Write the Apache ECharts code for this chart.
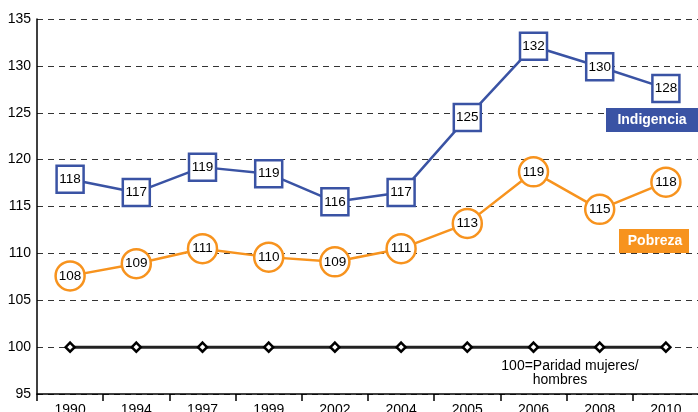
<!DOCTYPE html>
<html>
<head>
<meta charset="utf-8">
<script src="https://cdn.jsdelivr.net/npm/echarts@6/dist/echarts.min.js"></script>
<style>
html,body{margin:0;padding:0;background:#fff;}
#chart{width:698px;height:412px;}
</style>
</head>
<body>
<div id="chart"></div>
<script>
const years = ['1990','1994','1997','1999','2002','2004','2005','2006','2008','2010'];
const indigencia = [117.9, 116.5, 119.2, 118.5, 115.5, 116.5, 124.5, 132.1, 129.9, 127.6];
const pobreza = [107.6, 108.9, 110.5, 109.6, 109.1, 110.5, 113.2, 118.7, 114.7, 117.6];
const paridad = [100, 100, 100, 100, 100, 100, 100, 100, 100, 100];
const yTicks = [95, 100, 105, 110, 115, 120, 125, 130, 135];

const BLUE = '#3a53a4';
const ORANGE = '#f7931e';
const FONT = 'Liberation Sans, Arial, sans-serif';

const chart = echarts.init(document.getElementById('chart'), null, {renderer: 'canvas'});
chart.setOption({
  animation: false,
  backgroundColor: '#fff',
  textStyle: {fontFamily: FONT},
  grid: {left: 37, right: -1, top: 19, bottom: 18, containLabel: false, outerBoundsMode: 'none'},
  xAxis: {
    type: 'category',
    data: years,
    boundaryGap: true,
    axisLine: {show: true, lineStyle: {color: '#000', width: 1.5}},
    axisTick: {show: true, length: 7, lineStyle: {color: '#000', width: 1.5}},
    axisLabel: {color: '#000', fontSize: 14, fontFamily: FONT, margin: 9},
    splitLine: {show: false}
  },
  yAxis: {
    type: 'value',
    min: yTicks[0],
    max: yTicks[yTicks.length - 1],
    interval: 5,
    axisLine: {show: true, lineStyle: {color: '#000', width: 1.5}},
    axisTick: {show: false},
    axisLabel: {color: '#000', fontSize: 14, fontFamily: FONT, margin: 6},
    splitLine: {show: true, lineStyle: {color: '#333', width: 1, type: [6, 5]}}
  },
  series: [
    {
      name: 'Paridad',
      type: 'line',
      data: paridad,
      symbol: 'diamond',
      symbolSize: 9,
      lineStyle: {color: '#222', width: 3},
      itemStyle: {color: '#fff', borderColor: '#000', borderWidth: 2.5},
      z: 2
    },
    {
      name: 'Pobreza',
      type: 'line',
      data: pobreza,
      symbol: 'circle',
      symbolSize: 29,
      showAllSymbol: true,
      lineStyle: {color: ORANGE, width: 2.5},
      itemStyle: {color: '#fff', borderColor: ORANGE, borderWidth: 2.5},
      label: {
        show: true, position: 'inside', color: '#000', fontSize: 13.5, fontFamily: FONT,
        formatter: p => String(Math.round(p.value))
      },
      z: 3
    },
    {
      name: 'Indigencia',
      type: 'line',
      data: indigencia,
      symbol: 'rect',
      symbolSize: [27, 27],
      showAllSymbol: true,
      lineStyle: {color: BLUE, width: 2.5},
      itemStyle: {color: '#fff', borderColor: BLUE, borderWidth: 2.5},
      label: {
        show: true, position: 'inside', color: '#000', fontSize: 13.5, fontFamily: FONT,
        formatter: p => String(Math.round(p.value))
      },
      z: 4
    }
  ],
  graphic: [
    {type: 'rect', shape: {x: 606, y: 108, width: 92, height: 24}, style: {fill: BLUE}, z: 10},
    {type: 'text', x: 652, y: 120, style: {text: 'Indigencia', fill: '#fff', font: 'bold 14px ' + FONT, textAlign: 'center', textVerticalAlign: 'middle'}, z: 11},
    {type: 'rect', shape: {x: 619, y: 229, width: 70, height: 24}, style: {fill: ORANGE}, z: 10},
    {type: 'text', x: 655, y: 241, style: {text: 'Pobreza', fill: '#fff', font: 'bold 14px ' + FONT, textAlign: 'center', textVerticalAlign: 'middle'}, z: 11},
    {type: 'text', x: 570, y: 366, style: {text: '100=Paridad mujeres/', fill: '#000', font: '14px ' + FONT, textAlign: 'center', textVerticalAlign: 'middle'}, z: 11},
    {type: 'text', x: 560, y: 380, style: {text: 'hombres', fill: '#000', font: '14px ' + FONT, textAlign: 'center', textVerticalAlign: 'middle'}, z: 11}
  ]
});
</script>
</body>
</html>
